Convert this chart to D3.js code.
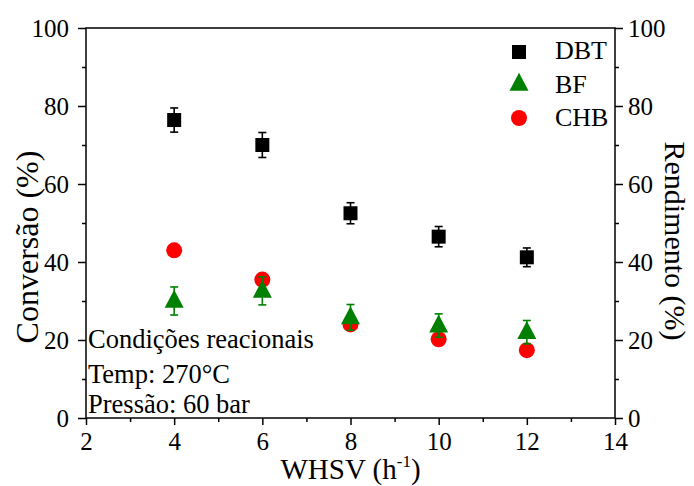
<!DOCTYPE html>
<html>
<head>
<meta charset="utf-8">
<script src="https://cdn.jsdelivr.net/npm/d3@7"></script>
<style>
  html, body { margin: 0; padding: 0; background: #fff; }
  svg text { font-family: "Liberation Serif", "Times New Roman", serif; fill: #000; }
</style>
</head>
<body>
<svg id="chart" width="694" height="486"></svg>
<script>
// WHSV values (h^-1)
const whsv = [4, 6, 8, 10, 12];

// DBT conversion (%) with error
const dbtValues = [76.4, 70.0, 52.5, 46.5, 41.2];
const dbtErrors = [3.1, 3.2, 2.7, 2.6, 2.4];

// BF yield (%) with error
const bfValues = [30.0, 32.6, 25.8, 23.7, 22.0];
const bfErrors = [3.6, 3.6, 3.3, 3.0, 3.0];

// CHB yield (%)
const chbValues = [43.0, 35.5, 24.0, 20.2, 17.4];

const xTicks = [2, 4, 6, 8, 10, 12, 14];
const yTicks = [0, 20, 40, 60, 80, 100];
const yMinorTicks = [10, 30, 50, 70, 90];
const xMinorTicks = [3, 5, 7, 9, 11, 13];

const annotationLines = ["Condições reacionais", "Temp: 270°C", "Pressão: 60 bar"];
const seriesNames = ["DBT", "BF", "CHB"];

const colors = { DBT: "#000000", BF: "#008000", CHB: "#ff0000" };

const svg = d3.select("#chart");
const margin = { left: 86, right: 79, top: 28, bottom: 68 };
const W = 694, H = 486;

const x = d3.scaleLinear().domain([2, 14]).range([margin.left, W - margin.right]);
const yL = d3.scaleLinear().domain([0, 100]).range([H - margin.bottom, margin.top]);
const yR = d3.scaleLinear().domain([0, 100]).range([H - margin.bottom, margin.top]);

// frame
svg.append("rect")
  .attr("x", x(2)).attr("y", yL(100))
  .attr("width", x(14) - x(2)).attr("height", yL(0) - yL(100))
  .attr("fill", "none").attr("stroke", "#000").attr("stroke-width", 1.5);

function styleAxis(g) {
  g.select(".domain").remove();
  g.selectAll("line").attr("stroke", "#000").attr("stroke-width", 1.5);
  g.selectAll("text").style("font-family", "Liberation Serif, serif").attr("fill", "#000");
}

const tickFont = "25px";

// bottom axis
const xAxis = svg.append("g").attr("transform", `translate(0,${yL(0)})`)
  .call(d3.axisBottom(x).tickValues(xTicks).tickSize(7).tickPadding(7).tickFormat(d3.format("d")));
styleAxis(xAxis);
xAxis.selectAll("text").style("font-size", tickFont);
svg.append("g").attr("transform", `translate(0,${yL(0)})`)
  .call(d3.axisBottom(x).tickValues(xMinorTicks).tickSize(4).tickFormat(""))
  .call(styleAxis);

// left axis
const yAxisL = svg.append("g").attr("transform", `translate(${x(2)},0)`)
  .call(d3.axisLeft(yL).tickValues(yTicks).tickSize(8).tickPadding(9).tickFormat(d3.format("d")));
styleAxis(yAxisL);
yAxisL.selectAll("text").style("font-size", tickFont);
svg.append("g").attr("transform", `translate(${x(2)},0)`)
  .call(d3.axisLeft(yL).tickValues(yMinorTicks).tickSize(4).tickFormat(""))
  .call(styleAxis);

// right axis
const yAxisR = svg.append("g").attr("transform", `translate(${x(14)},0)`)
  .call(d3.axisRight(yR).tickValues(yTicks).tickSize(8).tickPadding(5).tickFormat(d3.format("d")));
styleAxis(yAxisR);
yAxisR.selectAll("text").style("font-size", tickFont);
svg.append("g").attr("transform", `translate(${x(14)},0)`)
  .call(d3.axisRight(yR).tickValues(yMinorTicks).tickSize(4).tickFormat(""))
  .call(styleAxis);

// axis titles
const xTitle = svg.append("text")
  .attr("x", (x(2) + x(14)) / 2).attr("y", 479)
  .attr("text-anchor", "middle").style("font-size", "29px");
xTitle.append("tspan").text("WHSV (h");
xTitle.append("tspan").attr("dy", -12).style("font-size", "17px").text("-1");
xTitle.append("tspan").attr("dy", 12).text(")");

svg.append("text")
  .attr("transform", `translate(38,247) rotate(-90)`)
  .attr("text-anchor", "middle").style("font-size", "32px")
  .text("Conversão (%)");

svg.append("text")
  .attr("transform", `translate(665,241) rotate(90)`)
  .attr("text-anchor", "middle").style("font-size", "30px")
  .text("Rendimento (%)");

// reaction conditions
svg.append("g").selectAll("text").data(annotationLines).join("text")
  .attr("x", x(2) + 2)
  .attr("y", (d, i) => [348, 383, 413][i])
  .style("font-size", "26.5px")
  .text(d => d);

const plot = svg.append("g");
const capW = 8;

function errorBars(vals, errs, scale, color) {
  const g = plot.append("g").attr("stroke", color).attr("stroke-width", 1.6).attr("fill", "none");
  whsv.forEach((w, i) => {
    const cx = x(w), top = scale(vals[i] + errs[i]), bot = scale(vals[i] - errs[i]);
    g.append("line").attr("x1", cx).attr("x2", cx).attr("y1", top).attr("y2", bot);
    g.append("line").attr("x1", cx - capW / 2).attr("x2", cx + capW / 2).attr("y1", top).attr("y2", top);
    g.append("line").attr("x1", cx - capW / 2).attr("x2", cx + capW / 2).attr("y1", bot).attr("y2", bot);
  });
}

const sq = 14;
function squarePath(s) { return `M${-s/2},${-s/2}h${s}v${s}h${-s}Z`; }
function trianglePath(w, h) { return `M0,${-h * 0.62}L${w/2},${h * 0.38}L${-w/2},${h * 0.38}Z`; }

// DBT
errorBars(dbtValues, dbtErrors, yL, colors.DBT);
plot.append("g").selectAll("path").data(dbtValues).join("path")
  .attr("transform", (d, i) => `translate(${x(whsv[i])},${yL(d)})`)
  .attr("d", squarePath(sq)).attr("fill", colors.DBT);

// CHB
plot.append("g").selectAll("circle").data(chbValues).join("circle")
  .attr("cx", (d, i) => x(whsv[i])).attr("cy", d => yR(d))
  .attr("r", 8).attr("fill", colors.CHB);

// BF
plot.append("g").selectAll("path").data(bfValues).join("path")
  .attr("transform", (d, i) => `translate(${x(whsv[i])},${yR(d)})`)
  .attr("d", trianglePath(19, 18)).attr("fill", colors.BF);
errorBars(bfValues, bfErrors, yR, colors.BF);

// legend
const legend = svg.append("g");
const legendY = [52, 84, 118];
const legendBase = [59, 93, 126];
seriesNames.forEach((name, i) => {
  const lx = 519;
  if (name === "DBT") {
    legend.append("path").attr("transform", `translate(${lx},${legendY[i]})`).attr("d", squarePath(sq)).attr("fill", colors.DBT);
  } else if (name === "BF") {
    legend.append("path").attr("transform", `translate(${lx},${legendY[i]})`).attr("d", trianglePath(19, 18)).attr("fill", colors.BF);
  } else {
    legend.append("circle").attr("cx", lx).attr("cy", legendY[i]).attr("r", 8).attr("fill", colors.CHB);
  }
  legend.append("text").attr("x", 555).attr("y", legendBase[i]).style("font-size", "26px").text(name);
});
</script>
</body>
</html>
